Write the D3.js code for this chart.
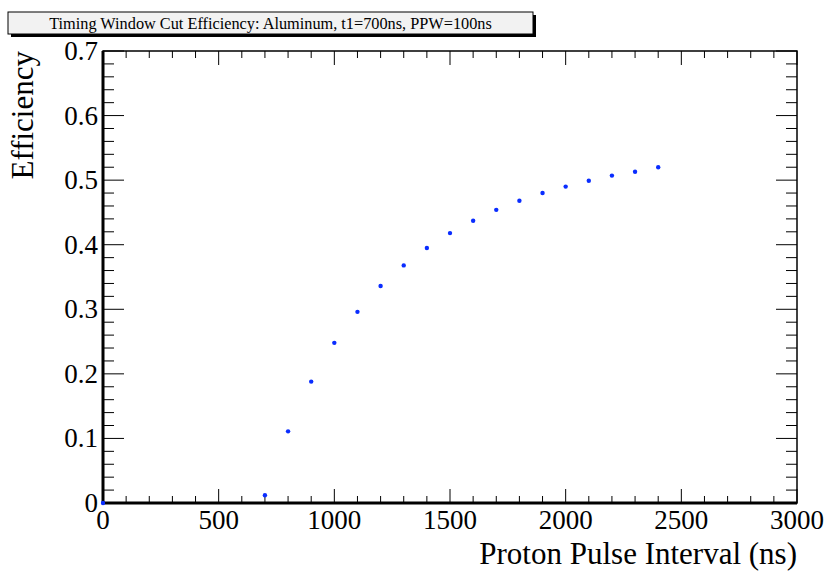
<!DOCTYPE html>
<html>
<head>
<meta charset="utf-8">
<script src="https://cdn.jsdelivr.net/npm/d3@7"></script>
<style>
  body { margin: 0; background: #fff; }
  svg { display: block; font-family: "Liberation Serif", "DejaVu Serif", serif; }
</style>
</head>
<body>
<div id="chart"></div>
<script>
// proton pulse interval (ns) and cut efficiency
const intervals = [0, 700, 800, 900, 1000, 1100, 1200, 1300, 1400, 1500, 1600, 1700, 1800, 1900, 2000, 2100, 2200, 2300, 2400];
const efficiency = [0, 0.012, 0.111, 0.188, 0.248, 0.296, 0.336, 0.368, 0.395, 0.418, 0.437, 0.454, 0.468, 0.480, 0.490, 0.499, 0.507, 0.513, 0.520];
const xTickLabels = [0, 500, 1000, 1500, 2000, 2500, 3000];
const yTickLabels = [0, 0.1, 0.2, 0.3, 0.4, 0.5, 0.6, 0.7];

const data = intervals.map((x, i) => ({ x: x, y: efficiency[i] }));

const width = 828, height = 572;
const margin = { top: 51, right: 31, bottom: 69, left: 103 };
const w = width - margin.left - margin.right;
const h = height - margin.top - margin.bottom;

const svg = d3.select("#chart")
    .append("svg")
    .attr("width", width)
    .attr("height", height);

const g = svg.append("g")
    .attr("transform", `translate(${margin.left},${margin.top})`);

const x = d3.scaleLinear().domain([0, 3000]).range([0, w]);
const y = d3.scaleLinear().domain([0, 0.7]).range([h, 0]);

// ROOT style ticks: major + 4 minor, on all four sides
const xMinor = d3.range(0, 3001, 100);
const yMinor = d3.range(0, 0.7001, 0.02);
const xMajLen = 14, xMinLen = 7, yMajLen = 21, yMinLen = 11;

const ticks = g.append("g").attr("stroke", "#000").attr("stroke-width", 1);

xMinor.forEach(v => {
    const major = Math.abs(v % 500) < 1e-6;
    const len = major ? xMajLen : xMinLen;
    ticks.append("line").attr("x1", x(v)).attr("x2", x(v)).attr("y1", h).attr("y2", h - len);
    ticks.append("line").attr("x1", x(v)).attr("x2", x(v)).attr("y1", 0).attr("y2", len);
});
yMinor.forEach(v => {
    const major = Math.abs(Math.round(v * 50) % 5) === 0;
    const len = major ? yMajLen : yMinLen;
    ticks.append("line").attr("x1", 0).attr("x2", len).attr("y1", y(v)).attr("y2", y(v));
    ticks.append("line").attr("x1", w).attr("x2", w - len).attr("y1", y(v)).attr("y2", y(v));
});

// frame
g.append("rect")
    .attr("x", 0).attr("y", 0)
    .attr("width", w).attr("height", h)
    .attr("fill", "none")
    .attr("stroke", "#000")
    .attr("stroke-width", 1.5);
g.append("line").attr("x1", 0).attr("x2", w).attr("y1", h).attr("y2", h)
    .attr("stroke", "#000").attr("stroke-width", 3);
g.append("line").attr("x1", 0).attr("x2", 0).attr("y1", 0).attr("y2", h)
    .attr("stroke", "#000").attr("stroke-width", 3);

// tick labels
g.selectAll(".xlab")
    .data(xTickLabels)
    .enter()
    .append("text")
    .attr("class", "xlab")
    .attr("x", d => x(d))
    .attr("y", h + 26)
    .attr("text-anchor", "middle")
    .attr("font-size", "27px")
    .text(d => d);

g.selectAll(".ylab")
    .data(yTickLabels)
    .enter()
    .append("text")
    .attr("class", "ylab")
    .attr("x", -5)
    .attr("y", d => y(d) + 9)
    .attr("text-anchor", "end")
    .attr("font-size", "27px")
    .text(d => d === 0 ? "0" : d.toFixed(1));

// axis titles
svg.append("text")
    .attr("x", margin.left + w)
    .attr("y", 564)
    .attr("text-anchor", "end")
    .attr("font-size", "31px")
    .text("Proton Pulse Interval (ns)");

svg.append("text")
    .attr("transform", `translate(33,${margin.top}) rotate(-90)`)
    .attr("text-anchor", "end")
    .attr("font-size", "31px")
    .text("Efficiency");

// points
g.selectAll("circle")
    .data(data)
    .enter()
    .append("circle")
    .attr("cx", d => x(d.x))
    .attr("cy", d => y(d.y))
    .attr("r", 2.2)
    .attr("fill", "#0a2dff");

// title box with shadow
const tb = { x: 8, y: 12, w: 525, h: 22 };
svg.append("rect")
    .attr("x", tb.x + 3).attr("y", tb.y + 3)
    .attr("width", tb.w).attr("height", tb.h)
    .attr("fill", "#000");
svg.append("rect")
    .attr("x", tb.x).attr("y", tb.y)
    .attr("width", tb.w).attr("height", tb.h)
    .attr("fill", "#f2f2f2")
    .attr("stroke", "#000")
    .attr("stroke-width", 1);
svg.append("text")
    .attr("x", tb.x + tb.w / 2)
    .attr("y", tb.y + 16.5)
    .attr("text-anchor", "middle")
    .attr("font-size", "16.3px")
    .text("Timing Window Cut Efficiency: Aluminum, t1=700ns, PPW=100ns");
</script>
</body>
</html>
